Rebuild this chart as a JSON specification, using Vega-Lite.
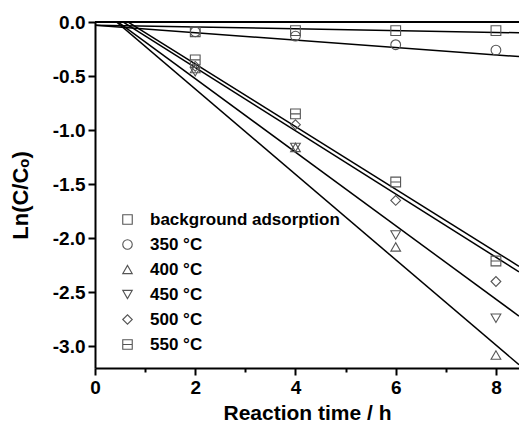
{
  "$schema": "https://vega.github.io/schema/vega-lite/v6.json",
  "width": 424,
  "height": 346,
  "autosize": {"type": "none"},
  "padding": {"left": 95, "top": 22, "right": 0, "bottom": 65},
  "background": "white",
  "config": {"view": {"stroke": null}, "font": "Liberation Sans"},
  "datasets": {
    "points": [
      {"series": "background adsorption", "t": 2, "lnc": -0.09},
      {"series": "background adsorption", "t": 4, "lnc": -0.08},
      {"series": "background adsorption", "t": 6, "lnc": -0.08},
      {"series": "background adsorption", "t": 8, "lnc": -0.08},
      {"series": "350 °C", "t": 2, "lnc": -0.09},
      {"series": "350 °C", "t": 4, "lnc": -0.13},
      {"series": "350 °C", "t": 6, "lnc": -0.21},
      {"series": "350 °C", "t": 8, "lnc": -0.26},
      {"series": "400 °C", "t": 2, "lnc": -0.43},
      {"series": "400 °C", "t": 4, "lnc": -1.16},
      {"series": "400 °C", "t": 6, "lnc": -2.08},
      {"series": "400 °C", "t": 8, "lnc": -3.08},
      {"series": "450 °C", "t": 2, "lnc": -0.46},
      {"series": "450 °C", "t": 4, "lnc": -1.16},
      {"series": "450 °C", "t": 6, "lnc": -1.97},
      {"series": "450 °C", "t": 8, "lnc": -2.74},
      {"series": "500 °C", "t": 2, "lnc": -0.41},
      {"series": "500 °C", "t": 4, "lnc": -0.95},
      {"series": "500 °C", "t": 6, "lnc": -1.65},
      {"series": "500 °C", "t": 8, "lnc": -2.40},
      {"series": "550 °C", "t": 2, "lnc": -0.35},
      {"series": "550 °C", "t": 4, "lnc": -0.85},
      {"series": "550 °C", "t": 6, "lnc": -1.48},
      {"series": "550 °C", "t": 8, "lnc": -2.21}
    ],
    "fits": [
      {"series": "background adsorption", "t": 0, "lnc": -0.03},
      {"series": "background adsorption", "t": 8.46, "lnc": -0.10},
      {"series": "350 °C", "t": 0, "lnc": -0.03},
      {"series": "350 °C", "t": 8.46, "lnc": -0.32},
      {"series": "400 °C", "t": 0, "lnc": 0.17},
      {"series": "400 °C", "t": 8.46, "lnc": -3.17},
      {"series": "450 °C", "t": 0, "lnc": 0.156},
      {"series": "450 °C", "t": 8.46, "lnc": -2.72},
      {"series": "500 °C", "t": 0, "lnc": 0.164},
      {"series": "500 °C", "t": 8.46, "lnc": -2.31},
      {"series": "550 °C", "t": 0, "lnc": 0.191},
      {"series": "550 °C", "t": 8.46, "lnc": -2.26}
    ]
  },
  "layer": [
    {
      "data": {"name": "fits"},
      "mark": {"type": "line", "clip": true, "color": "black", "strokeWidth": 1.5},
      "encoding": {
        "x": {
          "field": "t", "type": "quantitative",
          "scale": {"domain": [0, 8.46], "nice": false, "zero": false},
          "axis": {
            "title": "Reaction time / h",
            "values": [0, 1, 2, 3, 4, 5, 6, 7, 8],
            "format": "d",
            "labelExpr": "datum.value % 2 == 0 ? datum.label : ''",
            "tickSize": {"condition": {"test": "datum.value % 2 == 0", "value": 7}, "value": 4},
            "grid": false,
            "domainColor": "black", "domainWidth": 2,
            "tickColor": "black", "tickWidth": 2,
            "labelFont": "Liberation Sans", "labelFontWeight": "bold", "labelFontSize": 19,
            "labelColor": "black", "labelPadding": 3, "labelFlush": false, "labelOverlap": false, "labelBound": false,
            "titleFont": "Liberation Sans", "titleFontSize": 21, "titleFontWeight": "bold", "titleColor": "black", "titlePadding": 5
          }
        },
        "y": {
          "field": "lnc", "type": "quantitative",
          "scale": {"domain": [-3.2, 0], "nice": false, "zero": false},
          "axis": {
            "title": "Ln(C/Cₒ)",
            "values": [0, -0.25, -0.5, -0.75, -1, -1.25, -1.5, -1.75, -2, -2.25, -2.5, -2.75, -3],
            "labelExpr": "abs(datum.value*2 - round(datum.value*2)) < 0.001 ? replace(format(datum.value, '.1f'), '−', '-') : ''",
            "tickSize": {"condition": {"test": "abs(datum.value*2 - round(datum.value*2)) < 0.001", "value": 7}, "value": 4},
            "grid": false,
            "domainColor": "black", "domainWidth": 2,
            "tickColor": "black", "tickWidth": 2,
            "labelFont": "Liberation Sans", "labelFontWeight": "bold", "labelFontSize": 19,
            "labelColor": "black", "labelPadding": 3, "labelFlush": false, "labelOverlap": false, "labelBound": false,
            "titleFont": "Liberation Sans", "titleFontSize": 22, "titleFontWeight": "bold", "titleColor": "black", "titlePadding": 20
          }
        },
        "detail": {"field": "series", "type": "nominal"}
      }
    },
    {
      "data": {"name": "points"},
      "mark": {"type": "point", "filled": false, "color": "#555555", "strokeWidth": 1.1, "size": 95, "opacity": 1},
      "encoding": {
        "x": {"field": "t", "type": "quantitative"},
        "y": {"field": "lnc", "type": "quantitative"},
        "shape": {
          "field": "series", "type": "nominal",
          "scale": {
            "domain": ["background adsorption", "350 °C", "400 °C", "450 °C", "500 °C", "550 °C"],
            "range": ["square", "circle", "triangle-up", "triangle-down", "diamond", "M-1,-1H1V1H-1Z M-1,0H1"]
          },
          "legend": {
            "title": null,
            "orient": "none",
            "legendX": 24,
            "legendY": 189,
            "padding": 0,
            "rowPadding": 7,
            "symbolSize": 90,
            "symbolStrokeWidth": 1.1,
            "symbolStrokeColor": "#555555",
            "symbolFillColor": "transparent",
            "labelOffset": 14,
            "labelFont": "Liberation Sans", "labelFontWeight": "bold", "labelFontSize": 17, "labelColor": "black",
            "labelLimit": 400
          }
        }
      }
    },
    {
      "data": {"values": [{}]},
      "mark": {"type": "rule", "color": "black", "strokeWidth": 2},
      "encoding": {"y": {"datum": 0}}
    }
  ]
}
